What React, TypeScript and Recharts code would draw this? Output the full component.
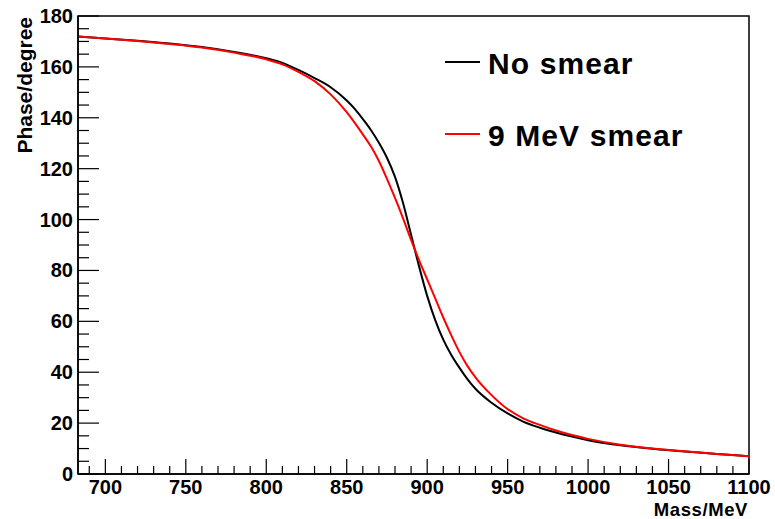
import React from 'react';
import { LineChart, Line, XAxis, YAxis, ReferenceArea, Legend } from 'recharts';

const mass = [683, 700, 720, 740, 760, 780, 800, 810, 820, 830, 840, 850, 855, 860, 865, 870, 875, 880, 885, 890, 895, 900, 905, 910, 915, 920, 925, 930, 940, 950, 960, 970, 980, 990, 1000, 1020, 1040, 1060, 1080, 1100];
const noSmear = [171.9, 171.2, 170.3, 169.2, 167.8, 165.9, 163.4, 161.6, 158.8, 155.6, 152.0, 146.8, 143.5, 139.5, 135.2, 130.2, 124.3, 116.8, 106.5, 94.0, 81.5, 70.0, 60.5, 52.8, 46.8, 41.8, 37.3, 33.5, 28.0, 23.8, 20.5, 18.2, 16.3, 14.7, 13.3, 11.3, 9.9, 8.8, 7.9, 7.0];
const smear9 = [171.9, 171.2, 170.2, 169.0, 167.6, 165.6, 163.0, 161.0, 158.0, 154.4, 149.2, 142.2, 138.0, 133.5, 128.8, 123.0, 116.0, 108.5, 100.5, 92.0, 84.0, 76.5, 69.0, 61.5, 54.5, 48.0, 42.5, 38.0, 31.0, 25.5, 21.8, 19.3, 17.1, 15.3, 13.8, 11.5, 10.0, 8.9, 7.9, 7.0];

const xTicks = [690, 700, 710, 720, 730, 740, 750, 760, 770, 780, 790, 800, 810, 820, 830, 840, 850, 860, 870, 880, 890, 900, 910, 920, 930, 940, 950, 960, 970, 980, 990, 1000, 1010, 1020, 1030, 1040, 1050, 1060, 1070, 1080, 1090, 1100];
const xLabels = [700, 750, 800, 850, 900, 950, 1000, 1050, 1100];
const yTicks = [0, 5, 10, 15, 20, 25, 30, 35, 40, 45, 50, 55, 60, 65, 70, 75, 80, 85, 90, 95, 100, 105, 110, 115, 120, 125, 130, 135, 140, 145, 150, 155, 160, 165, 170, 175, 180];
const yLabels = [0, 20, 40, 60, 80, 100, 120, 140, 160, 180];

const seriesNames = ['No smear', '9 MeV smear'];
const seriesColors = ['#000000', '#ff0000'];

const data = mass.map((m, i) => ({ m, a: noSmear[i], b: smear9[i] }));

const FONT = '"Liberation Sans", Arial, Helvetica, sans-serif';

const XTick = (props: any) => {
  const { x, y, payload } = props;
  const v = payload.value;
  const major = xLabels.includes(v);
  return (
    <g>
      <line x1={x} x2={x} y1={y} y2={y - (major ? 15 : 8)} stroke="#000" strokeWidth={1.2} />
      {major && (
        <text x={x} y={y + 20} textAnchor="middle" fontFamily={FONT} fontWeight="bold" fontSize={20} fill="#000">
          {v}
        </text>
      )}
    </g>
  );
};

const YTick = (props: any) => {
  const { x, y, payload } = props;
  const v = payload.value;
  const major = yLabels.includes(v);
  return (
    <g>
      <line x1={x} x2={x + (major ? 21 : 11)} y1={y} y2={y} stroke="#000" strokeWidth={1.2} />
      {major && (
        <text x={x - 5} y={y + 7} textAnchor="end" fontFamily={FONT} fontWeight="bold" fontSize={20} fill="#000">
          {v}
        </text>
      )}
    </g>
  );
};

const LegendBox = (props: any) => {
  const payload = [...(props.payload || [])].sort(
    (p: any, q: any) => seriesNames.indexOf(p.value) - seriesNames.indexOf(q.value)
  );
  return (
    <svg width={320} height={130} style={{ display: 'block' }}>
      {payload.map((p: any, i: number) => (
        <g key={i}>
          <line x1={5} x2={40} y1={32 + i * 72} y2={32 + i * 72} stroke={p.color} strokeWidth={2} />
          <text x={48} y={44 + i * 72} fontFamily={FONT} fontWeight="bold" fontSize={30} letterSpacing={1.1} fill="#000">
            {p.value}
          </text>
        </g>
      ))}
    </svg>
  );
};

export default function App() {
  return (
    <div style={{ position: 'absolute', left: 0, top: 0, background: '#fff' }}>
      <LineChart width={775} height={519} data={data} margin={{ top: 16, right: 26, left: 0, bottom: 0 }}>
        <XAxis
          dataKey="m"
          type="number"
          domain={[683, 1100]}
          allowDataOverflow
          ticks={xTicks}
          interval={0}
          tickSize={0}
          tickMargin={0}
          tickLine={false}
          axisLine={{ stroke: '#000', strokeWidth: 1.5 }}
          height={45}
          tick={XTick}
          label={{
            content: () => (
              <text x={748} y={516} textAnchor="end" fontFamily={FONT} fontWeight="bold" fontSize={18.5} letterSpacing={0.6} fill="#000">
                Mass/MeV
              </text>
            ),
          }}
        />
        <YAxis
          type="number"
          domain={[0, 180]}
          allowDataOverflow
          ticks={yTicks}
          interval={0}
          tickSize={0}
          tickMargin={0}
          tickLine={false}
          axisLine={{ stroke: '#000', strokeWidth: 1.5 }}
          width={78}
          tick={YTick}
          label={{
            content: () => (
              <text
                x={32}
                y={17}
                transform="rotate(-90, 32, 17)"
                textAnchor="end"
                fontFamily={FONT}
                fontWeight="bold"
                fontSize={21}
                fill="#000"
              >
                Phase/degree
              </text>
            ),
          }}
        />
        <ReferenceArea x1={683} x2={1100} y1={0} y2={180} fill="none" stroke="#000" strokeWidth={1.5} ifOverflow="visible" />
        <Line type="monotone" dataKey="a" name={seriesNames[0]} stroke={seriesColors[0]} strokeWidth={2} dot={false} isAnimationActive={false} />
        <Line type="monotone" dataKey="b" name={seriesNames[1]} stroke={seriesColors[1]} strokeWidth={2} dot={false} isAnimationActive={false} />
        <Legend
          layout="horizontal"
          verticalAlign="middle"
          align="center"
          wrapperStyle={{ left: 440, top: 30, width: 320, height: 130 }}
          content={LegendBox}
        />
      </LineChart>
    </div>
  );
}
